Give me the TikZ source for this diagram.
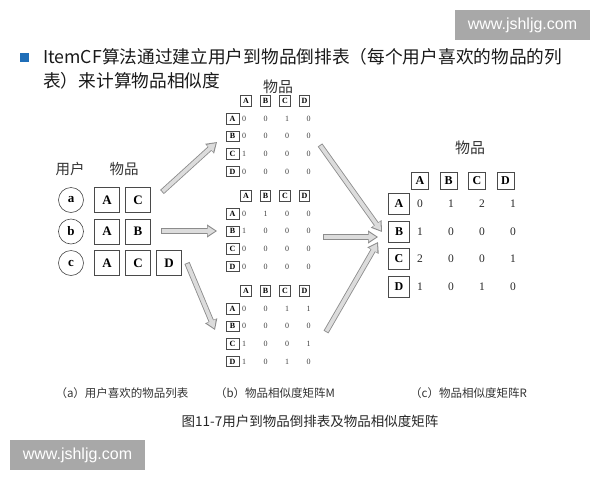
\documentclass[tikz,border=0pt]{standalone}
\usepackage{fontspec}
\setmainfont{Liberation Serif}
\newfontfamily\cjk{Noto Sans CJK SC}
\newfontfamily\wmfont{Liberation Sans}
\usetikzlibrary{arrows.meta}

\definecolor{wmgray}{HTML}{A8A8A8}
\definecolor{bulletblue}{HTML}{1F6EB8}
\definecolor{arrowfill}{HTML}{DCDCDC}
\definecolor{arrowline}{HTML}{8C8C8C}
\definecolor{boxline}{HTML}{4A4A4A}

\tikzset{
  mbox/.style={draw=boxline, line width=0.6pt, minimum width=10.5pt, minimum height=10.5pt, inner sep=0pt, font=\fontsize{8}{8}\selectfont\bfseries},
  mrowbox/.style={mbox, minimum width=13pt},
  mval/.style={inner sep=0pt, text=black!75, font=\fontsize{8}{8}\selectfont},
  rbox/.style={draw=boxline, line width=0.7pt, minimum width=17pt, minimum height=17pt, inner sep=0pt, font=\fontsize{12}{12}\selectfont\bfseries},
  rrowbox/.style={rbox, minimum width=21pt, minimum height=21pt},
  rval/.style={inner sep=0pt, text=black!85, font=\fontsize{11.5}{12}\selectfont},
  itembox/.style={draw=boxline, line width=0.7pt, minimum size=25pt, inner sep=0pt, font=\fontsize{13}{13}\selectfont\bfseries},
  usercirc/.style={draw=boxline, circle, line width=0.6pt, minimum size=25pt, inner sep=0pt, font=\fontsize{13}{13}\selectfont\bfseries},
  label/.style={inner sep=0pt, text=black!80, font=\cjk\fontsize{14.5}{15}\selectfont},
  caption/.style={inner sep=0pt, text=black!80, font=\cjk\fontsize{11.5}{12}\selectfont},
  watermark/.style={fill=wmgray, text=white, inner sep=0pt, minimum width=135pt, minimum height=30pt, font=\wmfont\fontsize{16}{16}\selectfont},
  fatout/.style={line width=5.5pt, draw=arrowline, -{Triangle[length=10pt,width=12.5pt]}},
  fatin/.style={line width=3.8pt, draw=arrowfill, shorten >=1.7pt, shorten <=0.9pt, -{Triangle[length=7.8pt,width=9.2pt]}}
}

\begin{document}
\begin{tikzpicture}[x=1pt,y=-1pt]
\useasboundingbox (0,0) rectangle (600,480);

% watermarks
\node[watermark] (wmtop) at (522.5,25) {www.jshljg.com};
\node[watermark] (wmbot) at (77.5,455) {www.jshljg.com};

% title
\node[fill=bulletblue, minimum size=9pt, inner sep=0pt] (bullet) at (24,57.5) {};
\node[anchor=west, inner sep=0pt, text=black!90, font=\cjk\fontsize{17.7}{18}\selectfont] (title1) at (43,57) {ItemCF算法通过建立用户到物品倒排表（每个用户喜欢的物品的列};
\node[anchor=west, inner sep=0pt, text=black!90, font=\cjk\fontsize{17.7}{18}\selectfont] (title2) at (43,81) {表）来计算物品相似度};

% (a) users and items
\node[label] (usr) at (70,169) {用户};
\node[label] (itm) at (124,169) {物品};
\foreach \u/\items [count=\i] in {a/{A,C}, b/{A,B}, c/{A,C,D}} {
  \node[usercirc] (u\u) at (71,{168.5+31.5*\i}) {\u};
  \foreach \c [count=\j] in \items
    \node[itembox] (u\u-\c) at ({76+31*\j},{168.5+31.5*\i}) {\c};
}

% (b) matrices M
\node[label, font=\cjk\fontsize{15}{15}\selectfont] (mtitle) at (278,87) {物品};
\foreach \m/\yy/\vals in {1/101/{{0,0,1,0},{0,0,0,0},{1,0,0,0},{0,0,0,0}},
                          2/196/{{0,1,0,0},{1,0,0,0},{0,0,0,0},{0,0,0,0}},
                          3/291/{{0,0,1,1},{0,0,0,0},{1,0,0,1},{1,0,1,0}}} {
  \foreach \c [count=\j] in {A,B,C,D} {
    \node[mbox] (m\m-h\c) at ({226.5+19.5*\j},\yy) {\c};
    \node[mrowbox] (m\m-r\c) at (232.5,{\yy+17.6*\j}) {\c};
  }
  \foreach \row [count=\i] in \vals
    \foreach \v [count=\j] in \row
      \node[mval] (m\m-v\i\j) at ({222.5+21.5*\j},{\yy+17.6*\i}) {\v};
}

% (c) matrix R
\node[label, font=\cjk\fontsize{15}{15}\selectfont] (rtitle) at (470,148) {物品};
\foreach \c [count=\j] in {A,B,C,D} {
  \node[rbox] (r-h\c) at ({391.5+28.5*\j},181) {\c};
  \node[rrowbox] (r-r\c) at (399,{176.5+27.5*\j}) {\c};
}
\foreach \row [count=\i] in {{0,1,2,1},{1,0,0,0},{2,0,0,1},{1,0,1,0}}
  \foreach \v [count=\j] in \row
    \node[rval] (r-v\i\j) at ({389+31*\j},{176.5+27.5*\i}) {\v};

% arrows
\coordinate (s1) at (162,192);   \coordinate (e1) at (217,142);
\coordinate (s2) at (161,231);   \coordinate (e2) at (217,231);
\coordinate (s3) at (187,263);   \coordinate (e3) at (215,330);
\coordinate (s4) at (320,145);   \coordinate (e4) at (382,232);
\coordinate (s5) at (323,237);   \coordinate (e5) at (378,237);
\coordinate (s6) at (326,332);   \coordinate (e6) at (378,242);
\foreach \k in {1,...,6} {
  \draw[fatout] (s\k) -- (e\k);
  \draw[fatin] (s\k) -- (e\k);
}

% captions
\node[caption] (capa) at (122,393) {（a）用户喜欢的物品列表};
\node[caption] (capb) at (275,393) {（b）物品相似度矩阵M};
\node[caption] (capc) at (468.5,393) {（c）物品相似度矩阵R};
\node[inner sep=0pt, text=black!85, font=\cjk\fontsize{13.5}{14}\selectfont] (figcap) at (310,421.5) {图11-7用户到物品倒排表及物品相似度矩阵};
\end{tikzpicture}
\end{document}
